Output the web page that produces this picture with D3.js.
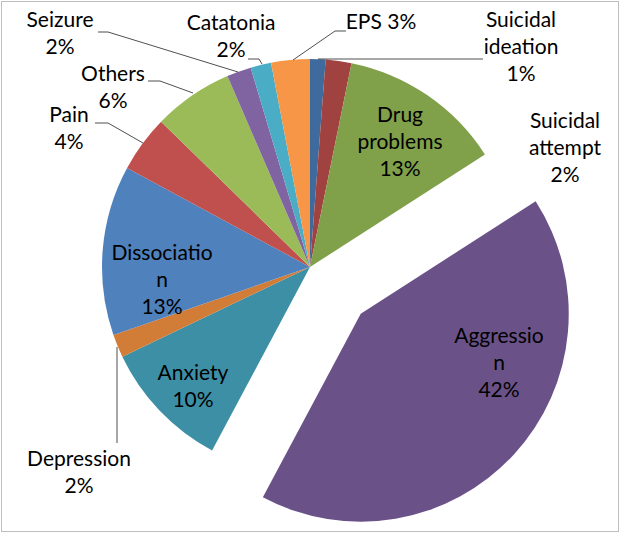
<!DOCTYPE html>
<html>
<head>
<meta charset="utf-8">
<script src="https://cdn.jsdelivr.net/npm/d3@7"></script>
<style>
  html, body { margin: 0; padding: 0; background: #fff; }
  svg { display: block; }
  text { font-family: Lato, "Open Sans", sans-serif; fill: #000; }
</style>
</head>
<body>
<svg id="chart" width="628" height="539"></svg>
<script>
// ---- data ----
const categories = ["Suicidal ideation", "Suicidal attempt", "Drug problems", "Aggression",
  "Anxiety", "Depression", "Dissociation", "Pain", "Others", "Seizure", "Catatonia", "EPS"];
const values = [1.2, 2.0, 12.7, 41.9, 10.1, 1.8, 13.2, 4.4, 6.2, 1.9, 1.6, 3.0];
const labelLines = [
  ["Suicidal", "ideation"], ["Suicidal", "attempt"], ["Drug", "problems"], ["Aggressio", "n"],
  ["Anxiety"], ["Depression"], ["Dissociatio", "n"], ["Pain"], ["Others"], ["Seizure"], ["Catatonia"], ["EPS"]
];
const exploded = ["Aggression"];

// ---- styling / layout ----
const colors = ["#3F6A9E", "#9F4240", "#80A04A", "#6A5289", "#3D8FA6", "#D27D37",
  "#4F81BD", "#C0504D", "#9BBB59", "#8064A2", "#4BACC6", "#F79646"];
const cx = 310, cy = 267, R = 208, explodeDist = 69;
const lineH = 27, fontSize = 21;
// label anchor (center x, first baseline y), percent inline flag
const labelPos = [
  {x: 521, y: 27}, {x: 565, y: 128}, {x: 400, y: 122}, {x: 499, y: 343},
  {x: 193, y: 380}, {x: 79, y: 466}, {x: 162, y: 260}, {x: 69, y: 122},
  {x: 113, y: 81}, {x: 60, y: 27}, {x: 231, y: 30}, {x: 381, y: 29, inline: true}
];
const leaders = [
  [[318, 59], [483, 59]],
  null, null, null, null,
  [[117, 443], [117, 347]],
  null,
  [[95, 123], [108, 123], [143, 143]],
  [[148, 81], [160, 81], [193, 93]],
  [[98, 32], [108, 32], [238, 72]],
  [[248, 59], [259, 59], [262, 64]],
  [[346, 31], [335, 31], [293, 60]]
];

const svg = d3.select("#chart");

// chart border
svg.append("rect").attr("x", 1.5).attr("y", 1.5).attr("width", 617).attr("height", 530)
  .attr("fill", "#fff").attr("stroke", "#BFBFBF").attr("stroke-width", 1);

const total = d3.sum(values);
const pie = d3.pie().sort(null).value(d => d.value).startAngle(0).endAngle(2 * Math.PI);
const data = categories.map((c, i) => ({name: c, value: values[i], i}));
const arcs = pie(data);
const arc = d3.arc().innerRadius(0).outerRadius(R);

const g = svg.append("g").attr("transform", `translate(${cx},${cy})`);
g.selectAll("path").data(arcs).join("path")
  .attr("d", arc)
  .attr("fill", d => colors[d.data.i])
  .attr("transform", d => {
    if (!exploded.includes(d.data.name)) return null;
    const a = (d.startAngle + d.endAngle) / 2;
    return `translate(${explodeDist * Math.sin(a)},${-explodeDist * Math.cos(a)})`;
  });

// leader lines
const line = d3.line();
leaders.forEach(pts => {
  if (!pts) return;
  svg.append("path").attr("d", line(pts)).attr("fill", "none")
    .attr("stroke", "#222").attr("stroke-width", 0.8);
});

// labels
arcs.forEach((d, i) => {
  const pct = Math.round(d.data.value / total * 100) + "%";
  const pos = labelPos[i];
  let lines = labelLines[i].slice();
  if (pos.inline) lines[lines.length - 1] += " " + pct; else lines.push(pct);
  const t = svg.append("text").attr("text-anchor", "middle").attr("font-size", fontSize);
  lines.forEach((s, k) => {
    t.append("tspan").attr("x", pos.x).attr("y", pos.y + k * lineH).text(s);
  });
});
</script>
</body>
</html>
